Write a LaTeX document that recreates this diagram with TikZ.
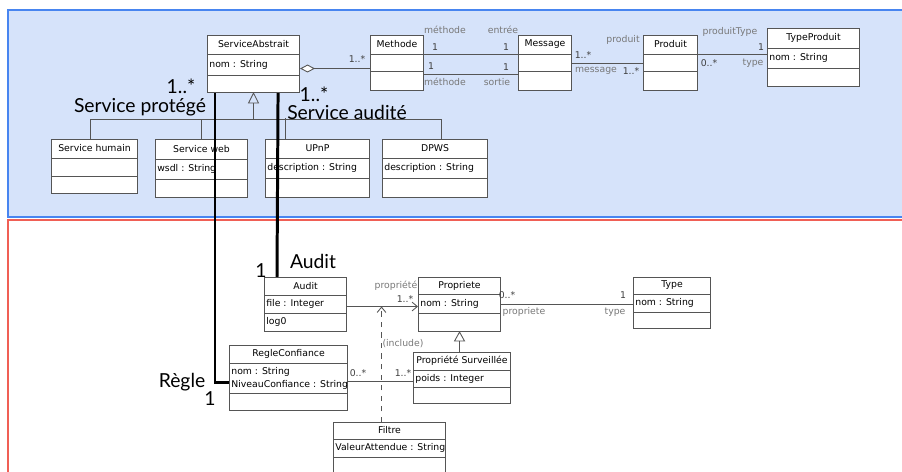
\documentclass[tikz,border=0pt]{standalone}
\usepackage{fontspec}
\usetikzlibrary{arrows.meta, calc, shadows}

\newfontfamily\boxfont{DejaVu Sans}
\newfontfamily\notefont{Lato}

\definecolor{panelblue}{RGB}{214,227,250}
\definecolor{panelblueline}{RGB}{72,133,240}
\definecolor{panelred}{RGB}{240,95,85}
\definecolor{boxgray}{RGB}{85,85,85}
\definecolor{rolegray}{RGB}{120,120,120}

% class box: name, x, y (top left), width, heights of the three parts, title, attribute
\newcommand{\umlclass}[9]{%
  \node[classbox, minimum width=#4*0.02cm, minimum height=(#5+#6+#7)*0.02cm] (#1) at (#2,#3) {};
  \draw[classline] ($(#1.north west)+(0,#5)$) -- ($(#1.north east)+(0,#5)$);
  \draw[classline] ($(#1.north west)+(0,#5+#6)$) -- ($(#1.north east)+(0,#5+#6)$);
  \node[classtext] (#1-title) at ($(#1.north)+(0,#5/2)$) {#8};
  \node[classtext, anchor=west] (#1-attr) at ($(#1.north west)+(2,#5+#6/2)$) {#9};
}

\begin{document}
\begin{tikzpicture}[
    x=0.02cm, y=-0.02cm,
    classbox/.style={draw=boxgray, fill=white, line width=0.6pt, inner sep=0pt,
        anchor=north west,
        drop shadow={shadow xshift=0.5pt, shadow yshift=-0.5pt, opacity=0.3}},
    classline/.style={boxgray, line width=0.5pt},
    classtext/.style={font=\boxfont\fontsize{5.3}{7.4}\selectfont, inner sep=0pt, align=left},
    conn/.style={boxgray, line width=0.5pt},
    thickconn/.style={black, line width=1.7pt},
    role/.style={font=\boxfont\fontsize{5.3}{7}\selectfont, text=rolegray, inner sep=0pt},
    mult/.style={font=\boxfont\fontsize{5.3}{7}\selectfont, text=black!75, inner sep=0pt},
    bignote/.style={font=\notefont\fontsize{11}{12}\selectfont, inner sep=0pt, anchor=base},
    barb/.style={conn, -{Straight Barb[length=3pt, width=5pt]}},
]
\useasboundingbox (0,0) rectangle (902,472);

% === Panels ===
\filldraw[fill=panelblue, draw=panelblueline, line width=1.1pt] (8,10) rectangle (910,217);
\draw[panelred, line width=1.1pt] (8,220) rectangle (910,480);

% === Services ===
\umlclass{sa}{207}{35}{92}{19}{21}{17}{ServiceAbstrait}{nom : String}
\umlclass{meth}{370}{35}{53}{19}{17}{19}{Methode}{}
\umlclass{msg}{518}{35}{53}{19}{17}{19}{Message}{}
\umlclass{prod}{643}{35}{54}{19}{17}{19}{Produit}{}
\umlclass{tprod}{767}{28}{92}{20}{20}{18}{TypeProduit}{nom : String}
\umlclass{shum}{51}{139}{86}{19}{18}{17}{Service humain}{}
\umlclass{sweb}{155}{139}{92}{20}{20}{18}{Service web}{wsdl : String}
\umlclass{upnp}{265}{139}{104}{19}{20}{19}{UPnP}{description : String}
\umlclass{dpws}{382}{139}{105}{19}{20}{19}{DPWS}{description : String}

% aggregation ServiceAbstrait - Methode
\coordinate (agg) at ($(sa.east)+(0,4.5)$);
\draw[conn, {Diamond[length=8.5pt, width=4.5pt, fill=white]}-] (agg) -- (agg -| meth.west);
\node[mult] (m-agg) at (357,59) {1..*};

% Methode - Message
\coordinate (me1) at ($(meth.north east)+(0,19)$);
\coordinate (me2) at ($(meth.north east)+(0,39)$);
\draw[conn] (me1) -- (me1 -| msg.west);
\draw[conn] (me2) -- (me2 -| msg.west);
\node[role] (r-meth1) at (445,30) {méthode};
\node[mult] (m-meth1) at (435,47) {1};
\node[role] (r-entree) at (503,30) {entrée};
\node[mult] (m-entree) at (506,47) {1};
\node[mult] (m-meth2) at (431,66) {1};
\node[role] (r-meth2) at (445,82) {méthode};
\node[role] (r-sortie) at (497,82) {sortie};
\node[mult] (m-sortie) at (506,67) {1};

% Message - Produit
\draw[conn] (msg.east) -- (msg.east -| prod.west);
\node[mult] (m-msg) at (583,55) {1..*};
\node[role] (r-msg) at (596,71) {message};
\node[mult] (m-prod) at (631,71) {1..*};
\node[role] (r-prod) at (623,40) {produit};

% Produit - TypeProduit
\coordinate (pt) at ($(prod.north east)+(0,19)$);
\draw[conn] (pt) -- (pt -| tprod.west);
\node[role] (r-ptype) at (730,32) {produitType};
\node[mult] (m-ptype) at (761,47) {1};
\node[mult] (m-tprod) at (709,63) {0..*};
\node[role] (r-type) at (753,63) {type};

% generalization
\draw[conn] (sa.south) -- ++(-5,10) -- ++(10,0) -- cycle;
\draw[conn] ($(sa.south)+(0,10)$) -- ++(0,16) coordinate (gen);
\draw[conn] ($(shum.north)+(-4,0)$) |- (gen) -| ($(dpws.north)+(6,0)$);
\draw[conn] (sweb.north) -- (sweb.north |- gen);
\draw[conn] ($(upnp.north west)+(20,0)$) -- ++(0,-21);

% === Audit ===
\umlclass{audit}{264}{277}{82}{18}{18}{18}{Audit}{file : Integer}
\node[classtext, anchor=west] (audit-ops) at ($(audit.north west)+(2,45)$) {log0};
\umlclass{propr}{418}{277}{82}{17}{19}{18}{Propriete}{nom : String}
\umlclass{typ}{633}{277}{77}{17}{18}{16}{Type}{nom : String}
\umlclass{regle}{229}{345}{118}{18}{30}{17}{RegleConfiance}{nom : String\\NiveauConfiance : String}
\umlclass{psurv}{413}{352}{97}{18}{17}{16}{Propriété Surveillée}{poids : Integer}
\umlclass{filtre}{333}{422}{112}{17}{18}{20}{Filtre}{ValeurAttendue : String}

% Audit -> Propriete
\coordinate (ap) at ($(audit.east)+(0,2)$);
\draw[barb] (ap) -- (ap -| propr.west);
\node[role] (r-propr) at (396,286) {propriété};
\node[mult] (m-propr) at (405,299) {1..*};

% Filtre include
\coordinate (fi) at ($(filtre.north)+(-8,0)$);
\draw[barb, dashed] (fi) -- (fi |- ap);
\node[role] (r-incl) at (403,344) {(include)};

% Propriete - Type
\draw[conn] (propr.east) -- (propr.east -| typ.west);
\node[mult] (m-pt1) at (507,295) {0..*};
\node[role] (r-pt1) at (524,312) {propriete};
\node[mult] (m-pt2) at (623,295) {1};
\node[role] (r-pt2) at (615,312) {type};

% Propriete <|- Propriete Surveillee
\draw[conn] (propr.south) -- ++(-5,9) -- ++(10,0) -- cycle;
\draw[conn] ($(propr.south)+(0,9)$) -- (psurv.north -| propr.south);

% RegleConfiance - Propriete Surveillee
\coordinate (rp) at ($(regle.east)+(0,3.5)$);
\draw[conn] (rp) -- (rp -| psurv.west);
\node[mult] (m-rg1) at (358,373) {0..*};
\node[mult] (m-rg2) at (403,373) {1..*};

% === Annotations ===
\draw[thickconn] ($(sa.south west)+(8,0)$) |- ($(regle.west)+(0,4)$);
\draw[thickconn] ($(sa.south east)+(-22,0)$) -- ($(audit.north west)+(13,0)$);
\node[bignote] (n-prot-m) at (181,94) {1..*};
\node[bignote] (n-prot) at (140,113) {Service protégé};
\node[bignote] (n-aud-m) at (314,102) {1..*};
\node[bignote] (n-aud) at (347,120) {Service audité};
\node[bignote] (n-audit) at (313,269) {Audit};
\node[bignote] (n-audit-m) at (261,278) {1};
\node[bignote] (n-regle) at (182,388) {Règle};
\node[bignote] (n-regle-m) at (210,406) {1};

\end{tikzpicture}
\end{document}
